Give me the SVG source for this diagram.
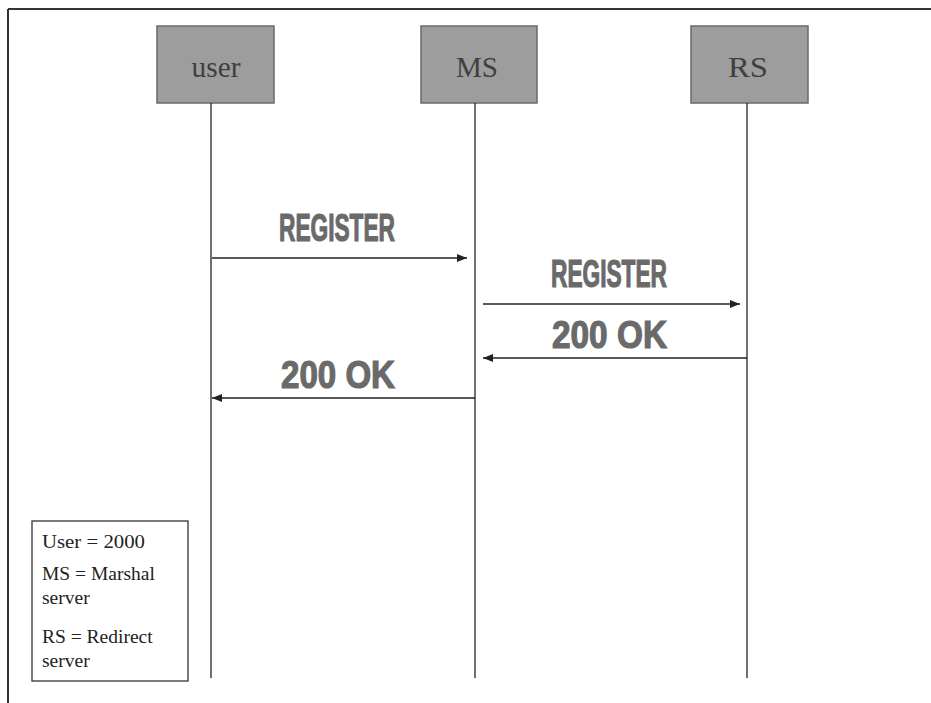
<svg xmlns="http://www.w3.org/2000/svg" width="931" height="703" viewBox="0 0 931 703">
<style>
.box{fill:#9d9d9d;stroke:#6a6a6a;stroke-width:1.5}
.lbl{font-family:"Liberation Serif",serif;font-size:30px;fill:#404040;text-anchor:middle}
.life{stroke:#222;stroke-width:1.3}
.msg{stroke:#222;stroke-width:1.3;fill:none}
.big{font-family:"Liberation Sans",Arial,sans-serif;font-weight:bold;font-size:38px;fill:#6a6a6a;stroke:#6a6a6a;stroke-width:1.2}
.leg{font-family:"Liberation Serif",serif;font-size:19.5px;fill:#222}
</style>
<defs>
<marker id="ah" viewBox="0 0 10 8" refX="10" refY="4" markerWidth="10" markerHeight="8" markerUnits="userSpaceOnUse" orient="auto">
<path d="M0,0 L10,4 L0,8 Z" fill="#222"/>
</marker>
</defs>
<rect width="931" height="703" fill="#fff"/>
<g id="frame">
<line x1="8" y1="9" x2="931" y2="9" stroke="#333" stroke-width="2"/>
<line x1="8" y1="9" x2="8" y2="703" stroke="#333" stroke-width="2"/>
</g>
<g id="user">
<rect class="box" x="157" y="26" width="117" height="77"/>
<text class="lbl" x="216" y="77" textLength="49" lengthAdjust="spacingAndGlyphs">user</text>
</g>
<g id="MS">
<rect class="box" x="421" y="26" width="116" height="77"/>
<text class="lbl" x="477" y="77" textLength="42" lengthAdjust="spacingAndGlyphs">MS</text>
</g>
<g id="RS">
<rect class="box" x="691" y="26" width="117" height="77"/>
<text class="lbl" x="748" y="77" textLength="40" lengthAdjust="spacingAndGlyphs">RS</text>
</g>
<g id="connectors">
<line class="life" x1="211" y1="103" x2="211" y2="678"/>
<line class="life" x1="475" y1="103" x2="475" y2="678"/>
<line class="life" x1="747" y1="103" x2="747" y2="678"/>
<line class="msg" x1="212" y1="258" x2="467" y2="258" marker-end="url(#ah)"/>
<line class="msg" x1="483" y1="304" x2="740" y2="304" marker-end="url(#ah)"/>
<line class="msg" x1="747" y1="358" x2="483" y2="358" marker-end="url(#ah)"/>
<line class="msg" x1="475" y1="398" x2="212" y2="398" marker-end="url(#ah)"/>
</g>
<g id="labels">
<text class="big" x="279" y="241" textLength="116" lengthAdjust="spacingAndGlyphs">REGISTER</text>
<text class="big" x="551" y="287" textLength="116" lengthAdjust="spacingAndGlyphs">REGISTER</text>
<text class="big" x="552" y="348" textLength="115" lengthAdjust="spacingAndGlyphs">200 OK</text>
<text class="big" x="281" y="388" textLength="114" lengthAdjust="spacingAndGlyphs">200 OK</text>
</g>
<g id="legend">
<rect x="32" y="521" width="156" height="160" fill="#fff" stroke="#333" stroke-width="1.3"/>
<text class="leg" x="42" y="548" textLength="103" lengthAdjust="spacingAndGlyphs">User = 2000</text>
<text class="leg" x="42" y="580">MS = Marshal</text>
<text class="leg" x="42" y="604">server</text>
<text class="leg" x="42" y="643">RS = Redirect</text>
<text class="leg" x="42" y="667">server</text>
</g>
</svg>
